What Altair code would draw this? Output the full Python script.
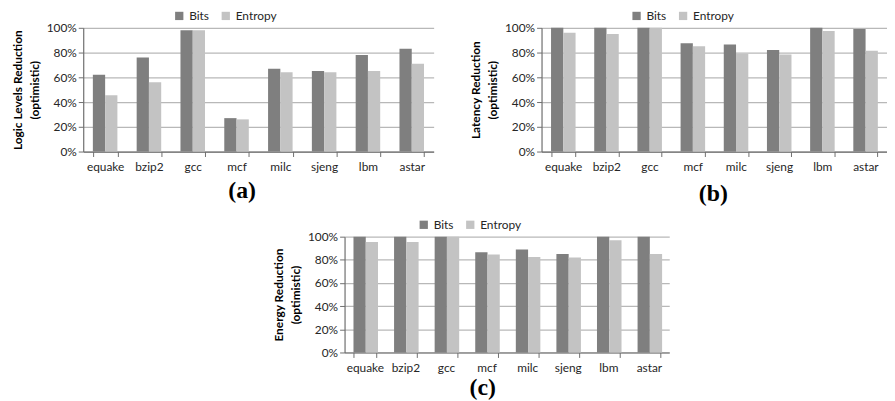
import altair as alt
import pandas as pd

categories = ["equake", "bzip2", "gcc", "mcf", "milc", "sjeng", "lbm", "astar"]
series = ["Bits", "Entropy"]

# (a) Logic levels reduction (percent)
logic_bits = [62, 76, 98, 27, 67, 65, 78, 83]
logic_entropy = [45.5, 56, 98, 26, 64, 64, 65, 71]
# (b) Latency reduction (percent)
latency_bits = [100, 100, 100, 87.5, 86.5, 82, 100, 99]
latency_entropy = [96, 95, 100, 85, 79, 78.5, 97.5, 81.5]
# (c) Energy reduction (percent)
energy_bits = [100, 100, 100, 86.5, 89, 85, 100, 100]
energy_entropy = [95.5, 95.5, 100, 84.5, 82.5, 82, 97, 85]

y_ticks = [0, 0.2, 0.4, 0.6, 0.8, 1.0]
colors = ["#7f7f7f", "#c3c3c3"]
FONT = "Lato"
AXIS_COLOR = "#6e6e6e"
TEXT_COLOR = "#262626"
NBSP = "\u00a0"
NO_VIEW = alt.ViewBackground(stroke="transparent", strokeWidth=0)


def make_df(bits, entropy):
    rows = []
    for c, b, e in zip(categories, bits, entropy):
        rows.append({"cat": c, "series": "Bits", "value": b / 100})
        rows.append({"cat": c, "series": "Entropy", "value": e / 100})
    return pd.DataFrame(rows)


def panel(bits, entropy, ytitle, letter, width, height, legend_x, title_x, title_y):
    df = make_df(bits, entropy)
    return alt.Chart(df).mark_bar().encode(
        x=alt.X(
            "cat:N",
            sort=categories,
            scale=alt.Scale(paddingInner=0.44, paddingOuter=0.22),
            axis=alt.Axis(
                title=letter,
                titleFont="Liberation Serif",
                titleFontWeight="bold",
                titleFontSize=24,
                titleColor="#000000",
                titleX=title_x,
                titleY=title_y,
                titleAlign="center",
                titleBaseline="alphabetic",
                labelAngle=0,
                labelFont=FONT,
                labelFontSize=12,
                labelColor=TEXT_COLOR,
                labelPadding=5,
                tickBand="extent",
                tickSize=5,
                tickColor=AXIS_COLOR,
                domainColor=AXIS_COLOR,
                domainWidth=1.2,
                grid=False,
            ),
        ),
        xOffset=alt.XOffset("series:N", sort=series, scale=alt.Scale(paddingInner=0, paddingOuter=0)),
        y=alt.Y(
            "value:Q",
            scale=alt.Scale(domain=[0, 1], nice=False),
            axis=alt.Axis(
                title=ytitle,
                titleFont=FONT,
                titleFontWeight="bold",
                titleFontSize=12,
                titleColor="#000000",
                titleLineHeight=17,
                titlePadding=5,
                values=y_ticks,
                format=".0%",
                labelFont=FONT,
                labelFontSize=12,
                labelColor=TEXT_COLOR,
                labelPadding=2,
                tickSize=5,
                tickColor=AXIS_COLOR,
                domainColor=AXIS_COLOR,
                domainWidth=1.2,
                grid=True,
                gridColor="#b8b8b8",
                gridWidth=1.3,
            ),
        ),
        color=alt.Color(
            "series:N",
            sort=series,
            scale=alt.Scale(domain=series, range=colors),
            legend=alt.Legend(
                title=None,
                orient="none",
                direction="horizontal",
                legendX=legend_x,
                legendY=-18,
                symbolType="square",
                symbolSize=70,
                symbolStrokeWidth=0,
                labelFont=FONT,
                labelFontSize=12,
                labelColor=TEXT_COLOR,
                labelOffset=4,
                columnPadding=10,
            ),
        ),
    ).properties(width=width, height=height, view=NO_VIEW)


title_a = ["Logic Levels Reduction" + NBSP * 8, "(optimistic)" + NBSP * 5]
title_b = ["Latency Reduction" + NBSP * 2, "(optimistic)" + NBSP * 2]
title_c = ["Energy Reduction" + NBSP * 3, "(optimistic)" + NBSP * 3]

chart_a = panel(logic_bits, logic_entropy, title_a, "(a)", 354, 125, 91, 160, 46)
chart_b = panel(latency_bits, latency_entropy, title_b, "(b)", 349, 125, 90, 173, 49)
chart_c = panel(energy_bits, energy_entropy, title_c, "(c)", 328, 117, 74, 139, 42)

spacer = alt.Chart(pd.DataFrame({"v": [0]})).mark_point(opacity=0, size=0).encode(
    x=alt.X("v:Q", axis=None),
    y=alt.Y("v:Q", axis=None),
).properties(width=264, height=1, view=NO_VIEW)

top = alt.hconcat(chart_a, chart_b, spacing=109, bounds="flush").resolve_scale(
    color="independent").resolve_legend(color="independent")
bottom = alt.hconcat(spacer, chart_c, spacing=0, bounds="flush").resolve_scale(
    color="independent").resolve_legend(color="independent")

chart = alt.vconcat(top, bottom, spacing=14).resolve_scale(
    color="independent").resolve_legend(color="independent").properties(
    padding={"left": 3, "top": 0, "right": 0, "bottom": 0}
).configure_view(stroke="transparent", strokeWidth=0).configure(background="white")

chart.save("out.html", embed_options={"renderer": "svg", "actions": False})
